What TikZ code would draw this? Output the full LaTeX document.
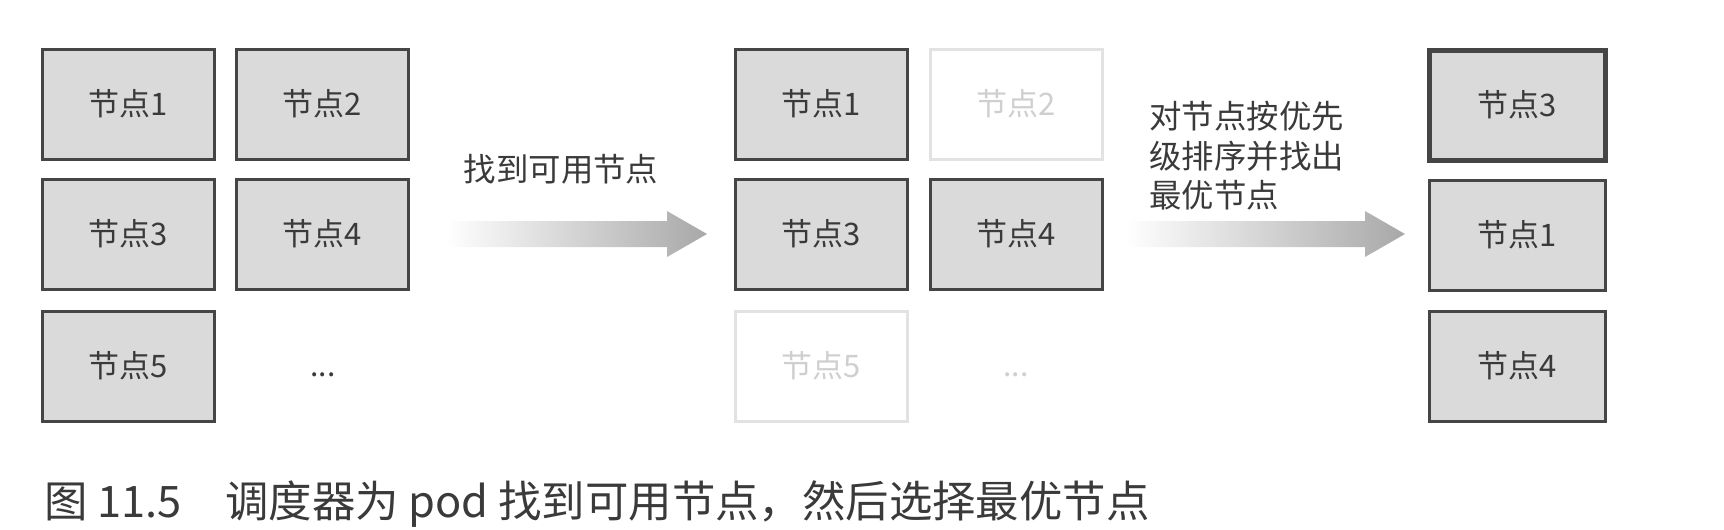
\documentclass[tikz,border=0pt]{standalone}
\usepackage{fontspec}
\setmainfont{Noto Sans CJK SC}
\usetikzlibrary{calc}
\definecolor{BoxFill}{HTML}{DADADA}
\definecolor{BoxLine}{HTML}{454545}
\definecolor{FadeLine}{HTML}{E2E2E2}
\definecolor{FadeText}{HTML}{CFCFCF}
\definecolor{ArrowGray}{HTML}{A8A8A8}
\definecolor{TextGray}{HTML}{3A3A3A}

% shaded block arrow from a free left end to its tip
\newcommand{\fatarrow}[2]{%
  \shade[left color=white, right color=ArrowGray]
    ($(#1)+(0,-13)$) -- ($(#2)+(-40,-13)$) -- ($(#2)+(-40,-23)$) -- (#2)
    -- ($(#2)+(-40,23)$) -- ($(#2)+(-40,13)$) -- ($(#1)+(0,13)$) -- cycle;}

\begin{document}
\begin{tikzpicture}[x=0.5pt, y=-0.5pt,
    box/.style={draw=BoxLine, line width=1.5pt, fill=BoxFill, minimum width=86pt,
      minimum height=55pt, inner sep=0pt, text=TextGray, font=\fontsize{15.5}{15.5}\selectfont},
    ghost/.style={box, draw=FadeLine, fill=white, text=FadeText},
    best/.style={box, line width=2.5pt},
    caption/.style={inner sep=0pt, text=TextGray, font=\fontsize{16.2}{19.75}\selectfont}]
    \useasboundingbox (0,0) rectangle (1724,530);
    % all nodes
    \node[box] (a1) at (128,104) {节点1};
    \node[box] (a2) at (322,104) {节点2};
    \node[box] (a3) at (128,234) {节点3};
    \node[box] (a4) at (322,234) {节点4};
    \node[box] (a5) at (128,366) {节点5};
    \node[caption, font=\fontsize{15}{15}\selectfont] (adots) at (323,375) {...};
    % available nodes
    \node[box] (b1) at (821,104) {节点1};
    \node[ghost] (b2) at (1016,104) {节点2};
    \node[box] (b3) at (821,234) {节点3};
    \node[box] (b4) at (1016,234) {节点4};
    \node[ghost] (b5) at (821,366) {节点5};
    \node[caption, text=FadeText, font=\fontsize{15}{15}\selectfont] (bdots) at (1016,375) {...};
    % ranked nodes
    \node[best, minimum width=88pt] (c3) at (1517,105) {节点3};
    \node[box, minimum width=88pt] (c1) at (1517,235) {节点1};
    \node[box, minimum width=88pt] (c4) at (1517,366) {节点4};
    % arrows and their texts
    \coordinate (findL) at (445,234);
    \coordinate (findR) at (707,234);
    \coordinate (sortL) at (1125,234);
    \coordinate (sortR) at (1405,234);
    \fatarrow{findL}{findR}
    \fatarrow{sortL}{sortR}
    \node[caption] (findtxt) at (561,169) {找到可用节点};
    \node[caption, anchor=west, align=left] (sorttxt) at (1149,156) {对节点按优先\\级排序并找出\\最优节点};
    \node[caption, anchor=west, font=\fontsize{21.7}{21.7}\selectfont] (figcap) at (44,504)
        {图 11.5\quad 调度器为 pod 找到可用节点，然后选择最优节点};
\end{tikzpicture}
\end{document}
